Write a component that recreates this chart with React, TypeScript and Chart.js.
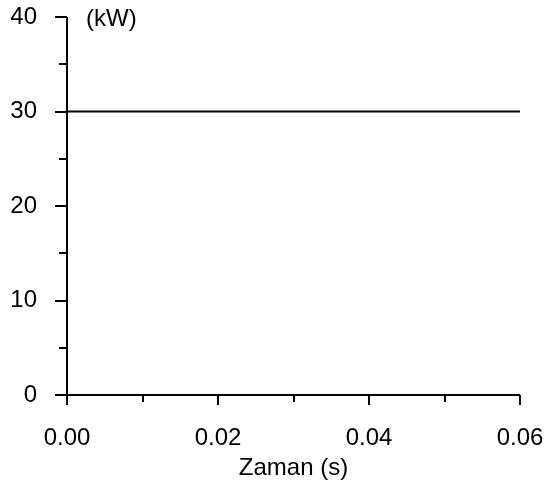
import React, { useEffect, useRef } from "react";
import { Chart, registerables } from "chart.js";

Chart.register(...registerables);

const times = [0, 0.06];
const power = [30, 30];
const xTicks = [0, 0.01, 0.02, 0.03, 0.04, 0.05, 0.06];
const xLabelTicks = [0, 0.02, 0.04, 0.06];
const yTicks = [0, 5, 10, 15, 20, 25, 30, 35, 40];
const yLabelTicks = [0, 10, 20, 30, 40];
const unitLabel = "(kW)";
const xTitle = "Zaman (s)";

const FONT = "'Liberation Sans', Arial, sans-serif";
const FS = 24;

const tickPlugin = {
  id: "customTicks",
  afterDraw(chart: any) {
    const ctx = chart.ctx;
    const xs = chart.scales.x;
    const ys = chart.scales.y;
    const area = chart.chartArea;
    ctx.save();
    ctx.strokeStyle = "#000";
    ctx.lineWidth = 2;
    ctx.beginPath();
    ctx.moveTo(area.left, ys.getPixelForValue(40));
    ctx.lineTo(area.left, ys.getPixelForValue(0));
    ctx.lineTo(xs.getPixelForValue(0.06), ys.getPixelForValue(0));
    ctx.stroke();
    yTicks.forEach((v) => {
      const y = Math.round(ys.getPixelForValue(v));
      const major = v % 10 === 0;
      ctx.beginPath();
      ctx.moveTo(area.left - (major ? 12 : 8), y);
      ctx.lineTo(area.left, y);
      ctx.stroke();
    });
    const yb = ys.getPixelForValue(0);
    xTicks.forEach((v, i) => {
      const x = Math.round(xs.getPixelForValue(v));
      const major = i % 2 === 0;
      ctx.beginPath();
      ctx.moveTo(x, yb);
      ctx.lineTo(x, yb + (major ? 10 : 7));
      ctx.stroke();
    });
    ctx.fillStyle = "#000";
    ctx.font = `${FS}px ${FONT}`;
    ctx.textBaseline = "alphabetic";
    ctx.textAlign = "left";
    ctx.fillText(unitLabel, area.left + 19, 26);
    ctx.restore();
  },
};

const zeroPad = (s: any) => {
  s.paddingTop = 0;
  s.paddingBottom = 0;
  s.paddingLeft = 0;
  s.paddingRight = 0;
};

export default function App() {
  const ref = useRef<HTMLCanvasElement>(null);
  useEffect(() => {
    document.body.style.margin = "0";
    const chart = new Chart(ref.current!, {
      type: "line",
      data: {
        datasets: [
          {
            data: times.map((t, i) => ({ x: t, y: power[i] })),
            borderColor: "#000",
            borderWidth: 2.2,
            pointRadius: 0,
            fill: false,
          },
        ],
      },
      options: {
        animation: false,
        responsive: false,
        maintainAspectRatio: false,
        layout: { padding: { top: 17, right: 25, left: 0, bottom: 0 } },
        plugins: { legend: { display: false }, tooltip: { enabled: false } },
        scales: {
          x: {
            type: "linear",
            min: 0,
            max: 0.06,
            border: { display: false },
            grid: { display: false, drawTicks: false },
            afterBuildTicks: (s: any) => {
              s.ticks = xLabelTicks.map((v) => ({ value: v }));
            },
            afterFit: (s: any) => {
              s.height = 88;
              zeroPad(s);
            },
            ticks: {
              autoSkip: false,
              maxRotation: 0,
              padding: 29,
              color: "#000",
              font: { family: FONT, size: FS },
              callback: (v: any) => Number(v).toFixed(2),
            },
            title: {
              display: true,
              text: xTitle,
              color: "#000",
              font: { family: FONT, size: FS },
              padding: { top: 0, bottom: 0 },
            },
          },
          y: {
            type: "linear",
            min: 0,
            max: 40,
            border: { display: false },
            grid: { display: false, drawTicks: false },
            afterBuildTicks: (s: any) => {
              s.ticks = yLabelTicks.map((v) => ({ value: v }));
            },
            afterFit: (s: any) => {
              s.width = 67;
              zeroPad(s);
            },
            ticks: {
              padding: 30,
              color: "#000",
              font: { family: FONT, size: FS },
            },
          },
        },
      },
      plugins: [tickPlugin],
    });
    return () => chart.destroy();
  }, []);
  return (
    <div style={{ width: 545, height: 483 }}>
      <canvas ref={ref} width={545} height={483} style={{ display: "block" }} />
    </div>
  );
}
